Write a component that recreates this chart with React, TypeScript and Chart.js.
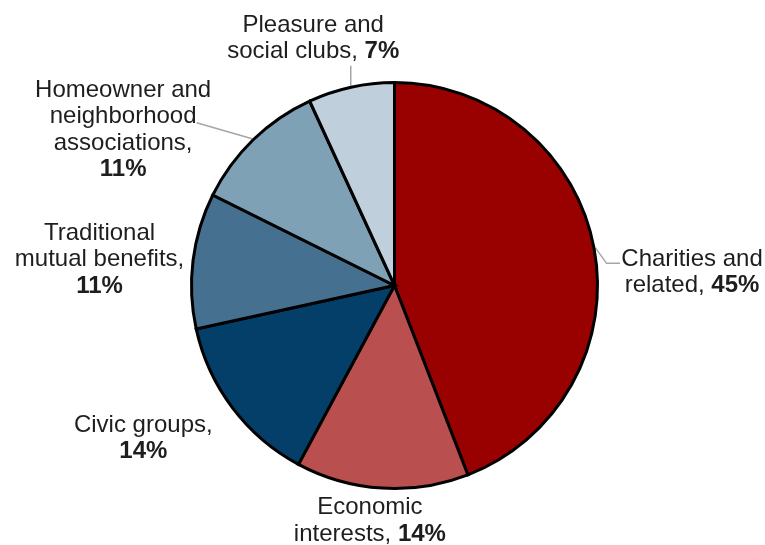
import React, { useEffect, useRef } from "react";
import { Chart, registerables } from "chart.js";

Chart.register(...registerables);

// ---- data ----
const categories = [
  "Charities and related",
  "Economic interests",
  "Civic groups",
  "Traditional mutual benefits",
  "Homeowner and neighborhood associations",
  "Pleasure and social clubs",
];
const shares = [45, 14, 14, 11, 11, 7];
// label text lines; the percentage (bold) is appended to the last line
const labelLines = [
  ["Charities and", "related, "],
  ["Economic", "interests, "],
  ["Civic groups,", ""],
  ["Traditional", "mutual benefits,", ""],
  ["Homeowner and", "neighborhood", "associations,", ""],
  ["Pleasure and", "social clubs, "],
];
const sliceColors = ["#990000", "#B94F4F", "#033F69", "#45708F", "#7FA1B6", "#BFD0DC"];

// ---- label placement (relative to slice outer-edge midpoint) ----
const labelOffsets: [number, number][] = [
  [96.5, 31],
  [-12, 38],
  [-88, 36.5],
  [-92, 6],
  [-129, -2],
  [-37.5, -40.5],
];
const leaders: ([number, number][] | null)[] = [
  [[0, 0], [11, 15.4], [24.5, 15.4]],
  null,
  null,
  null,
  [[0, 0], [-55.5, -16]],
  [[0, 0], [0, -20]],
];

const FONT_SIZE = 24;
const LINE_H = 26.5;
const FONT_FAMILY = '"Liberation Sans", Arial, sans-serif';

function edgePoint(arc: any, bw: number) {
  const mid = (arc.startAngle + arc.endAngle) / 2;
  const r = arc.outerRadius + bw / 2;
  return { x: arc.x + r * Math.cos(mid), y: arc.y + r * Math.sin(mid) };
}

const sliceLabelPlugin = {
  id: "sliceLabels",
  beforeDatasetsDraw(chart: any) {
    const ctx = chart.ctx;
    const meta = chart.getDatasetMeta(0);
    const bw = chart.data.datasets[0].borderWidth || 0;
    ctx.save();
    ctx.strokeStyle = "#A6A6A6";
    ctx.lineWidth = 1.5;
    meta.data.forEach((arc: any, i: number) => {
      const pts = leaders[i];
      if (!pts) return;
      const e = edgePoint(arc, bw);
      ctx.beginPath();
      pts.forEach(([dx, dy], k) => {
        if (k === 0) ctx.moveTo(e.x + dx, e.y + dy);
        else ctx.lineTo(e.x + dx, e.y + dy);
      });
      ctx.stroke();
    });
    ctx.restore();
  },
  afterDatasetsDraw(chart: any) {
    const ctx = chart.ctx;
    const meta = chart.getDatasetMeta(0);
    const bw = chart.data.datasets[0].borderWidth || 0;
    const values: number[] = chart.data.datasets[0].data;
    ctx.save();
    ctx.fillStyle = "#1E1E1E";
    ctx.textBaseline = "alphabetic";
    ctx.textAlign = "left";
    const normal = `${FONT_SIZE}px ${FONT_FAMILY}`;
    const bold = `bold ${FONT_SIZE}px ${FONT_FAMILY}`;
    meta.data.forEach((arc: any, i: number) => {
      const e = edgePoint(arc, bw);
      const [ox, oy] = labelOffsets[i];
      const cx = e.x + ox;
      const cy = e.y + oy;
      const lines = labelLines[i];
      const n = lines.length;
      lines.forEach((txt, li) => {
        const y = cy + (li - (n - 1) / 2) * LINE_H;
        const pct = li === n - 1 ? `${values[i]}%` : "";
        ctx.font = normal;
        const w1 = ctx.measureText(txt).width;
        ctx.font = bold;
        const w2 = pct ? ctx.measureText(pct).width : 0;
        let x = cx - (w1 + w2) / 2;
        ctx.font = normal;
        ctx.fillText(txt, x, y);
        if (pct) {
          ctx.font = bold;
          ctx.fillText(pct, x + w1, y);
        }
      });
    });
    ctx.restore();
  },
};

export default function App() {
  const canvasRef = useRef<HTMLCanvasElement | null>(null);

  useEffect(() => {
    document.body.style.margin = "0";
    const canvas = canvasRef.current;
    if (!canvas) return;
    const chart = new Chart(canvas, {
      type: "pie",
      data: {
        labels: categories,
        datasets: [
          {
            data: shares,
            backgroundColor: sliceColors,
            borderColor: "#000000",
            borderWidth: 3,
            borderJoinStyle: "miter",
          } as any,
        ],
      },
      options: {
        responsive: false,
        animation: false,
        layout: { padding: { left: 190, right: 166, top: 81, bottom: 55 } },
        plugins: {
          legend: { display: false },
          tooltip: { enabled: false },
        },
      },
      plugins: [sliceLabelPlugin],
    });
    return () => chart.destroy();
  }, []);

  return (
    <div style={{ width: 765, height: 545, background: "#ffffff" }}>
      <canvas ref={canvasRef} width={765} height={545} style={{ display: "block" }} />
    </div>
  );
}
